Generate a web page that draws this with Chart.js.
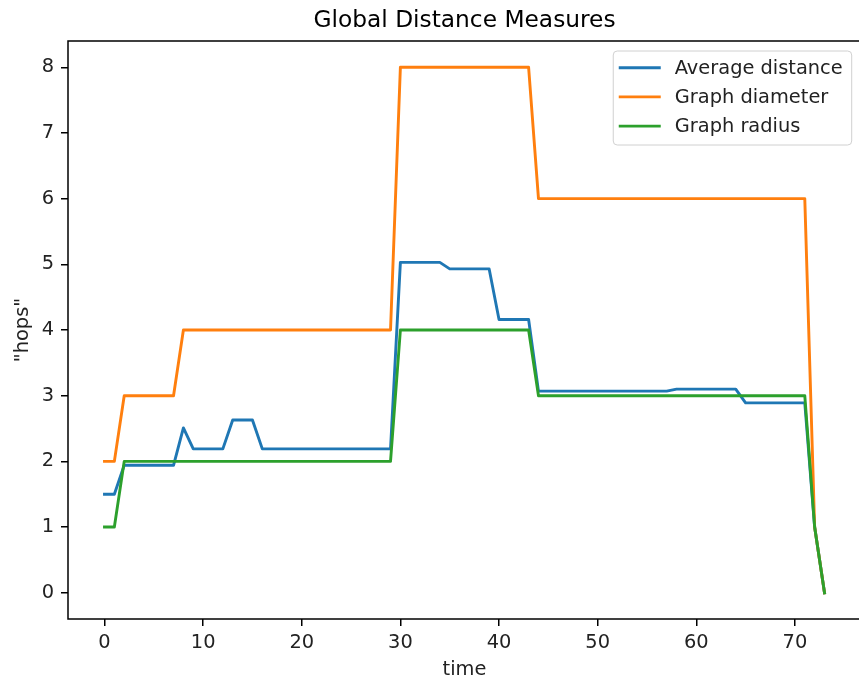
<!DOCTYPE html>
<html>
<head>
<meta charset="utf-8">
<script src="https://cdn.jsdelivr.net/npm/chart.js@4.4.0/dist/chart.umd.min.js"></script>
<style>
  html, body { margin: 0; padding: 0; background: #fff; overflow: hidden; }
  /* the reference is cut just before the right frame line, so the canvas runs a bit past the window */
  #wrap { width: 859px; height: 683px; overflow: hidden; }
</style>
</head>
<body>
<div id="wrap"><canvas id="distChart" width="862" height="683"></canvas></div>
<script>
const times = [
  0, 1, 2, 3, 4, 5, 6, 7, 8, 9, 10, 11, 12, 13, 14, 15, 16, 17, 18, 19,
  20, 21, 22, 23, 24, 25, 26, 27, 28, 29, 30, 31, 32, 33, 34, 35, 36, 37, 38, 39,
  40, 41, 42, 43, 44, 45, 46, 47, 48, 49, 50, 51, 52, 53, 54, 55, 56, 57, 58, 59,
  60, 61, 62, 63, 64, 65, 66, 67, 68, 69, 70, 71, 72, 73
];

const avgDistance = [
  1.5, 1.5, 1.94, 1.94, 1.94, 1.94, 1.94, 1.94, 2.51, 2.19,
  2.19, 2.19, 2.19, 2.63, 2.63, 2.63, 2.19, 2.19, 2.19, 2.19,
  2.19, 2.19, 2.19, 2.19, 2.19, 2.19, 2.19, 2.19, 2.19, 2.19,
  5.03, 5.03, 5.03, 5.03, 5.03, 4.93, 4.93, 4.93, 4.93, 4.93,
  4.16, 4.16, 4.16, 4.16, 3.07, 3.07, 3.07, 3.07, 3.07, 3.07,
  3.07, 3.07, 3.07, 3.07, 3.07, 3.07, 3.07, 3.07, 3.10, 3.10,
  3.10, 3.10, 3.10, 3.10, 3.10, 2.89, 2.89, 2.89, 2.89, 2.89,
  2.89, 2.89, 1.0, 0
];

const graphDiameter = [
  2, 2, 3, 3, 3, 3, 3, 3, 4, 4,
  4, 4, 4, 4, 4, 4, 4, 4, 4, 4,
  4, 4, 4, 4, 4, 4, 4, 4, 4, 4,
  8, 8, 8, 8, 8, 8, 8, 8, 8, 8,
  8, 8, 8, 8, 6, 6, 6, 6, 6, 6,
  6, 6, 6, 6, 6, 6, 6, 6, 6, 6,
  6, 6, 6, 6, 6, 6, 6, 6, 6, 6,
  6, 6, 1, 0
];

const graphRadius = [
  1, 1, 2, 2, 2, 2, 2, 2, 2, 2,
  2, 2, 2, 2, 2, 2, 2, 2, 2, 2,
  2, 2, 2, 2, 2, 2, 2, 2, 2, 2,
  4, 4, 4, 4, 4, 4, 4, 4, 4, 4,
  4, 4, 4, 4, 3, 3, 3, 3, 3, 3,
  3, 3, 3, 3, 3, 3, 3, 3, 3, 3,
  3, 3, 3, 3, 3, 3, 3, 3, 3, 3,
  3, 3, 1, 0
];

const xTicks = [0, 10, 20, 30, 40, 50, 60, 70];
const yTicks = [0, 1, 2, 3, 4, 5, 6, 7, 8];

const chartTitle = "Global Distance Measures";

const FONT = "'DejaVu Sans', sans-serif";
const FS = 19.4;

function toPoints(values) {
  return times.map((t, i) => ({ x: t, y: values[i] }));
}

// frame, title over the axes and the legend inside them, like matplotlib
const frameAndLegend = {
  id: "frameAndLegend",
  afterDatasetsDraw(chart) {
    const { ctx, chartArea: a } = chart;
    ctx.save();
    ctx.strokeStyle = "#000";
    ctx.lineWidth = 1.5;
    ctx.strokeRect(a.left, a.top, a.right - a.left, a.bottom - a.top);

    ctx.font = "23.3px " + FONT;
    ctx.fillStyle = "#000";
    ctx.textAlign = "center";
    ctx.textBaseline = "middle";
    ctx.fillText(chartTitle, (a.left + a.right) / 2, 20.5);

    ctx.font = FS + "px " + FONT;
    const sets = chart.data.datasets;
    let maxW = 0;
    sets.forEach((ds) => { maxW = Math.max(maxW, ctx.measureText(ds.label).width); });

    const handle = 42;
    const boxW = 5.5 + handle + 14 + maxW + 9;
    const rowH = 29.2;
    const boxH = 16.7 + rowH * (sets.length - 1) + 18.9;
    const x0 = a.right - 9.3 - boxW;
    const y0 = a.top + 10;

    ctx.beginPath();
    ctx.roundRect(x0, y0, boxW, boxH, 4);
    ctx.fillStyle = "rgba(255,255,255,0.8)";
    ctx.fill();
    ctx.strokeStyle = "#d0d0d0";
    ctx.lineWidth = 1;
    ctx.stroke();

    ctx.textAlign = "left";
    sets.forEach((ds, i) => {
      const y = y0 + 16.7 + rowH * i;
      ctx.beginPath();
      ctx.moveTo(x0 + 5.5, y);
      ctx.lineTo(x0 + 5.5 + handle, y);
      ctx.strokeStyle = ds.borderColor;
      ctx.lineWidth = 2.9;
      ctx.stroke();
      ctx.fillStyle = "#222";
      ctx.fillText(ds.label, x0 + 5.5 + handle + 14, y + 1);
    });
    ctx.restore();
  },
};

const canvas = document.getElementById("distChart");

new Chart(canvas, {
  type: "line",
  data: {
    datasets: [
      {
        label: "Average distance",
        data: toPoints(avgDistance),
        borderColor: "#1f77b4",
        order: 3,
      },
      {
        label: "Graph diameter",
        data: toPoints(graphDiameter),
        borderColor: "#ff7f0e",
        order: 2,
      },
      {
        label: "Graph radius",
        data: toPoints(graphRadius),
        borderColor: "#2ca02c",
        order: 1,
      },
    ],
  },
  options: {
    responsive: false,
    maintainAspectRatio: false,
    animation: false,
    devicePixelRatio: 1,
    layout: { padding: { top: 41, left: 0, right: 1, bottom: 0 } },
    elements: {
      point: { radius: 0, hoverRadius: 0 },
      line: {
        borderWidth: 2.9,
        tension: 0,
        fill: false,
        borderJoinStyle: "round",
        borderCapStyle: "square",
      },
    },
    plugins: {
      legend: { display: false },
      tooltip: { enabled: false },
      title: { display: false },
    },
    scales: {
      x: {
        type: "linear",
        min: -3.7,
        max: 76.7,
        afterBuildTicks: (scale) => {
          scale.ticks = xTicks.map((v) => ({ value: v }));
        },
        afterFit: (scale) => {
          scale.height = 64;
        },
        grid: {
          drawOnChartArea: false,
          drawTicks: true,
          tickLength: 7,
          color: "#000",
          lineWidth: 1.5,
        },
        border: { display: false },
        ticks: {
          color: "#222",
          padding: 5,
          maxRotation: 0,
          autoSkip: false,
          font: { family: FONT, size: FS },
        },
        title: {
          display: true,
          text: "time",
          color: "#222",
          font: { family: FONT, size: FS },
          padding: { top: 0, bottom: 1 },
        },
      },
      y: {
        type: "linear",
        min: -0.4,
        max: 8.4,
        afterBuildTicks: (scale) => {
          scale.ticks = yTicks.map((v) => ({ value: v }));
        },
        afterFit: (scale) => {
          scale.width = 68;
        },
        grid: {
          drawOnChartArea: false,
          drawTicks: true,
          tickLength: 7,
          color: "#000",
          lineWidth: 1.5,
        },
        border: { display: false },
        ticks: {
          color: "#222",
          padding: 7,
          autoSkip: false,
          font: { family: FONT, size: FS },
        },
        title: {
          display: true,
          text: '"hops"',
          color: "#222",
          font: { family: FONT, size: FS },
          padding: { top: 11, bottom: 0 },
        },
      },
    },
  },
  plugins: [frameAndLegend],
});
</script>
</body>
</html>
